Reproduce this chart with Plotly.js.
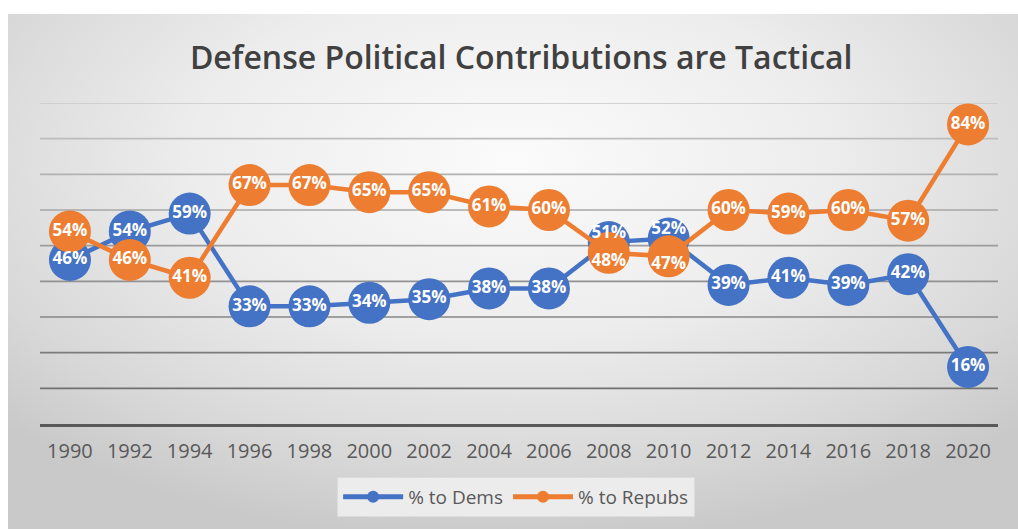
<!DOCTYPE html>
<html>
<head>
<meta charset="utf-8">
<script src="https://cdn.plot.ly/plotly-3.0.1.min.js"></script>
<style>
  html, body { margin: 0; padding: 0; background: #ffffff; }
  #wrap { position: relative; width: 1018px; height: 529px; background: #ffffff; overflow: hidden; }
  #bg { position: absolute; left: 8px; top: 14px; width: 1010px; height: 515px;
        background: radial-gradient(ellipse 70% 75% at 50% 28%, #fbfbfb 0%, #ededed 45%, #d8d8d8 80%, #c9c9c9 100%); }
  #chart { position: absolute; left: 0; top: 0; width: 1018px; height: 529px; }
</style>
</head>
<body>
<div id="wrap">
  <div id="bg"></div>
  <div id="chart"></div>
</div>
<script>
const years = ['1990','1992','1994','1996','1998','2000','2002','2004','2006','2008','2010','2012','2014','2016','2018','2020'];
const dems   = [46, 54, 59, 33, 33, 34, 35, 38, 38, 51, 52, 39, 41, 39, 42, 16];
const repubs = [54, 46, 41, 67, 67, 65, 65, 61, 60, 48, 47, 60, 59, 60, 57, 84];
const seriesNames = ['% to Dems', '% to Repubs'];
const titleText = 'Defense Political Contributions are Tactical';
const gridVals = [10, 20, 30, 40, 50, 60, 70, 80, 90];

const blue = '#4472C4';
const orange = '#ED7D31';
const FONT = 'Open Sans, sans-serif';

function lineTrace(vals, name, color) {
  return {
    type: 'scatter',
    mode: 'lines+markers',
    x: years,
    y: vals,
    name: name,
    line: { color: color, width: 4.5 },
    marker: { color: color, size: 42, line: { width: 0 } },
    cliponaxis: false,
    hoverinfo: 'skip'
  };
}

// label positions: separate labels only where the two series nearly coincide
const close = dems.map((v, i) => Math.abs(v - repubs[i]) < 6);
function textTrace(vals, up) {
  return {
    type: 'scatter',
    mode: 'text',
    x: years,
    y: vals,
    text: vals.map(v => v + '%'),
    textposition: close.map(c => c ? (up ? 'top center' : 'bottom center') : 'middle center'),
    textfont: { family: FONT, size: 17, color: '#ffffff', weight: 700 },
    showlegend: false,
    cliponaxis: false,
    hoverinfo: 'skip'
  };
}

const data = [
  lineTrace(dems, seriesNames[0], blue),
  lineTrace(repubs, seriesNames[1], orange),
  textTrace(dems, true),
  textTrace(repubs, false)
];

const shapes = gridVals.map(v => {
  const g = Math.round(200 - (90 - v) * 1.1);
  return {
    type: 'line', xref: 'paper', yref: 'y', x0: 0, x1: 1, y0: v, y1: v,
    line: { color: 'rgb(' + g + ',' + g + ',' + g + ')', width: 1.6 },
    layer: 'below'
  };
});

const layout = {
  width: 1018,
  height: 529,
  paper_bgcolor: 'rgba(0,0,0,0)',
  plot_bgcolor: 'rgba(0,0,0,0)',
  margin: { l: 40, r: 20, t: 103, b: 105 },
  title: {
    text: titleText,
    font: { family: FONT, size: 32, color: '#404040', weight: 600 },
    x: 0.512,
    xanchor: 'center',
    y: 0.89,
    yanchor: 'middle'
  },
  shapes: shapes,
  xaxis: {
    type: 'category',
    range: [-0.5, years.length - 0.5],
    autorange: false,
    showgrid: false,
    showline: true,
    linecolor: '#595959',
    linewidth: 2.5,
    ticks: '',
    ticklabelstandoff: 7,
    tickfont: { family: FONT, size: 20, color: '#595959' },
    fixedrange: true
  },
  yaxis: {
    range: [0, 90],
    autorange: false,
    dtick: 10,
    showticklabels: false,
    showgrid: false,
    zeroline: false,
    showline: false,
    fixedrange: true
  },
  showlegend: true,
  legend: {
    orientation: 'h',
    x: 0.497,
    xanchor: 'center',
    y: -0.165,
    yanchor: 'top',
    bgcolor: '#ececec',
    bordercolor: '#dcdcdc',
    borderwidth: 1,
    itemsizing: 'constant',
    font: { family: FONT, size: 19, color: '#595959' },
    itemwidth: 60
  }
};

Plotly.newPlot('chart', data, layout, { displayModeBar: false, staticPlot: true });
</script>
</body>
</html>
